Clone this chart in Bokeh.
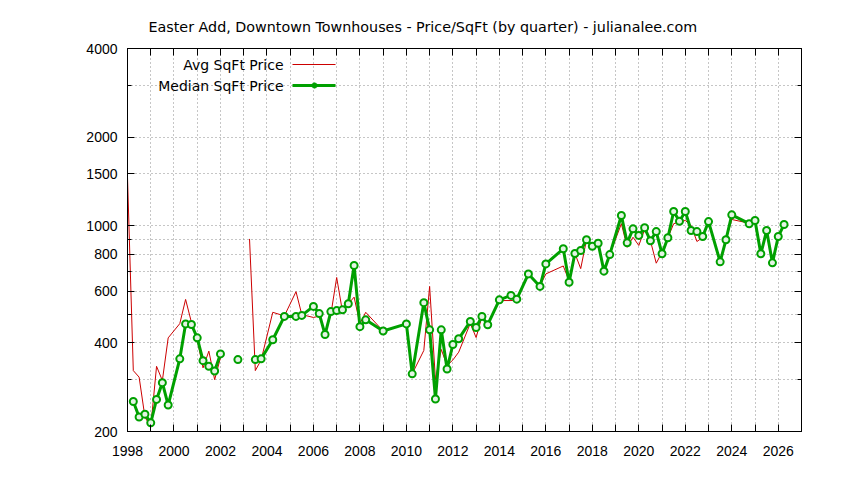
import math
from bokeh.plotting import figure
from bokeh.models import (FixedTicker, Label, Arrow, PolyAnnotation, LinearAxis,
                          LogAxis, NumeralTickFormatter, CustomJSTickFormatter)
from bokeh.embed import file_html
from bokeh.resources import INLINE

NaN = float("nan")

title_text = "Easter Add, Downtown Townhouses - Price/SqFt (by quarter) - julianalee.com"
avg_label = "Avg SqFt Price"
median_label = "Median SqFt Price"

quarters = [1998.0, 1998.25, 1998.5, 1998.75, 1999.0, 1999.25, 1999.5, 1999.75,
            2000.25, 2000.5, 2000.75, 2001.0, 2001.25, 2001.5, 2001.75, 2002.0,
            2002.25, 2002.75, 2003.0, 2003.25, 2003.5, 2003.75,
            2004.25, 2004.75, 2005.25, 2005.5, 2006.0, 2006.25, 2006.5, 2006.75,
            2007.0, 2007.25, 2007.5, 2007.75, 2008.0, 2008.25, 2009.0, 2010.0,
            2010.25, 2010.75, 2011.0, 2011.25, 2011.5, 2011.75, 2012.0, 2012.25,
            2012.75, 2013.0, 2013.25, 2013.5, 2014.0, 2014.5, 2014.75, 2015.25,
            2015.75, 2016.0, 2016.75, 2017.0, 2017.25, 2017.5, 2017.75, 2018.0,
            2018.25, 2018.5, 2018.75, 2019.25, 2019.5, 2019.75, 2020.0, 2020.25,
            2020.5, 2020.75, 2021.0, 2021.25, 2021.5, 2021.75, 2022.0, 2022.25,
            2022.5, 2022.75, 2023.0, 2023.5, 2023.75, 2024.0, 2024.75, 2025.0,
            2025.25, 2025.5, 2025.75, 2026.0, 2026.25]

avg_price = [1460, 322, 306, 224, 207, 333, 298, 416,
             465, 562, 470, 410, 329, 375, 300, 356,
             NaN, NaN, NaN, 902, 322, 350,
             508, 494, 597, 499, 488, 493, 432, 500,
             667, 511, 543, 572, 465, 508, 439, 464,
             314, 377, 622, 300, 380, 335, 350, 372,
             466, 417, 491, 461, 557, 557, 560, 686,
             625, 686, 730, 650, 806, 715, 896, 852,
             870, 703, 798, 1016, 845, 914, 857, 970,
             889, 746, 813, 910, 1016, 1030, 1042, 1002,
             884, 912, 1030, 754, 896, 1050, 1020, 1030,
             803, 963, 748, 919, 1010]

median_price = [NaN, 253, 224, 229, 214, 257, 293, 246,
                353, 464, 462, 416, 348, 333, 321, 367,
                NaN, 351, NaN, NaN, 351, 353,
                410, 492, 492, 496, 532, 503, 427, 511,
                515, 518, 543, 733, 454, 479, 439, 464,
                314, 548, 443, 258, 443, 326, 395, 413,
                473, 451, 492, 461, 560, 580, 563, 686,
                622, 742, 835, 643, 805, 824, 896, 852,
                872, 701, 798, 1083, 875, 976, 927, 984,
                889, 955, 803, 910, 1118, 1036, 1118, 963,
                955, 919, 1033, 754, 896, 1089, 1016, 1042,
                803, 963, 748, 919, 1010]

x_major = list(range(1998, 2027, 2))
x_minor = list(range(1999, 2027, 2))
y_major = [200, 400, 600, 800, 1000, 1500, 2000, 4000]
y_minor = [300, 500, 700, 900, 3000]

FONT = "DejaVu Sans"
TICK_FONT = "Liberation Sans"
RED = "#cc0000"
GREEN = "#00a000"
GRID = "#8c8c8c"

p = figure(width=828, height=464, y_axis_type="log",
           x_range=(1998, 2027), y_range=(200, 4000),
           output_backend="svg", toolbar_location=None,
           min_border_left=127, min_border_right=27,
           min_border_top=48, min_border_bottom=33)
p.outline_line_color = "black"
p.outline_line_width = 1
p.background_fill_color = "white"
p.border_fill_color = "white"

# title
p.title.text = title_text
p.title.align = "left"
p.title.offset = 21
p.title.text_font = FONT
p.title.text_font_size = "14.3px"
p.title.text_font_style = "normal"
p.title.text_color = "black"
p.title.standoff = 28

# bottom/left axes
p.xaxis.ticker = FixedTicker(ticks=x_major, minor_ticks=x_minor)
p.yaxis.ticker = FixedTicker(ticks=y_major, minor_ticks=y_minor)
p.yaxis.formatter = NumeralTickFormatter(format="0")
p.xaxis.formatter = NumeralTickFormatter(format="0")
for ax in (p.xaxis[0], p.yaxis[0]):
    ax.axis_line_color = "black"
    ax.major_tick_in = 7
    ax.major_tick_out = 0
    ax.minor_tick_in = 7 if ax is p.xaxis[0] else 4
    ax.minor_tick_out = 0
    ax.major_tick_line_color = "black"
    ax.minor_tick_line_color = "black"
    ax.major_label_text_font = TICK_FONT
    ax.major_label_text_font_size = "14px"
    ax.major_label_text_color = "black"
p.xaxis.major_label_standoff = 14
p.yaxis.major_label_standoff = 10

# mirrored axes (ticks only)
blank = CustomJSTickFormatter(code="return '';")
top_ax = LinearAxis(ticker=FixedTicker(ticks=x_major, minor_ticks=x_minor), formatter=blank)
right_ax = LogAxis(ticker=FixedTicker(ticks=y_major, minor_ticks=y_minor), formatter=blank)
for ax, mn in ((top_ax, 7), (right_ax, 4)):
    ax.axis_line_color = "black"
    ax.major_tick_in = 7
    ax.major_tick_out = 0
    ax.minor_tick_in = mn
    ax.minor_tick_out = 0
    ax.major_label_standoff = 0
    ax.major_label_text_font_size = "1px"
p.add_layout(top_ax, "above")
p.add_layout(right_ax, "right")

# grid
for g in (p.xgrid[0], p.ygrid[0]):
    g.grid_line_color = GRID
    g.grid_line_dash = "1 3"
    g.grid_line_width = 1
    g.minor_grid_line_color = GRID
    g.minor_grid_line_dash = "1 3"
    g.minor_grid_line_width = 1

# data
p.line(quarters, avg_price, line_color=RED, line_width=1)
p.line(quarters, median_price, line_color=GREEN, line_width=3)
p.scatter(quarters, median_price, size=7, marker="circle", line_color=GREEN,
          line_width=2, fill_color="#e4f4e4", fill_alpha=1.0)

# legend (manual, gnuplot style)
p.add_layout(Label(x=283, y=64, x_units="canvas", y_units="canvas", text=avg_label,
                   text_align="right", text_baseline="middle",
                   text_font=FONT, text_font_size="14px", text_color="black"))
p.add_layout(Label(x=283, y=85, x_units="canvas", y_units="canvas", text=median_label,
                   text_align="right", text_baseline="middle",
                   text_font=FONT, text_font_size="14px", text_color="black"))
p.add_layout(Arrow(end=None, x_start=292, y_start=64, x_end=335, y_end=64,
                   start_units="canvas", end_units="canvas",
                   line_color=RED, line_width=1))
p.add_layout(Arrow(end=None, x_start=292, y_start=85, x_end=335, y_end=85,
                   start_units="canvas", end_units="canvas",
                   line_color=GREEN, line_width=3))
r = 3.0
oct_x = [314 + r * math.cos(math.pi * k / 4) for k in range(8)]
oct_y = [85 + r * math.sin(math.pi * k / 4) for k in range(8)]
p.add_layout(PolyAnnotation(xs=oct_x, ys=oct_y, xs_units="canvas", ys_units="canvas",
                            fill_color=GREEN, fill_alpha=1.0, line_color=GREEN, line_width=1))

open("out.html", "w").write(file_html(p, INLINE))
